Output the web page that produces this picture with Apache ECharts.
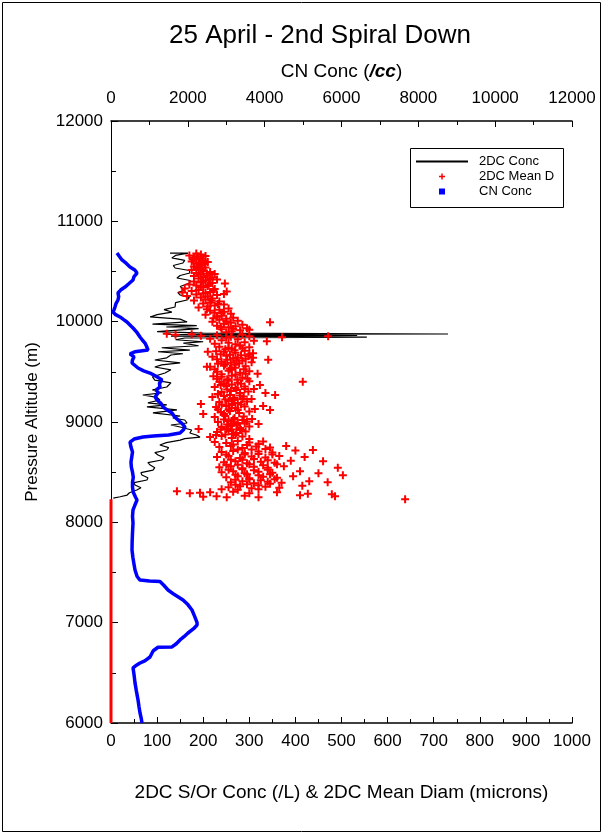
<!DOCTYPE html>
<html lang="en">
<head>
<meta charset="UTF-8">
<title>25 April - 2nd Spiral Down</title>
<script src="https://cdn.jsdelivr.net/npm/echarts@6.0.0/dist/echarts.min.js"></script>
<style>
    html,body{margin:0;padding:0;background:#fff;}
    #main{width:604px;height:834px;}
</style>
</head>
<body>
<div id="main"></div>
<script>
// 2DC S/Or Conc (/L) vs altitude (m)  [conc, alt]
var twoDCConc = [
    [128,10684],[167,10684],[140,10660],[132,10635],[160,10610],[156,10585],[135,10560],[139,10535],
    [170,10510],[171,10485],[150,10460],[143,10435],[172,10410],[171,10385],[150,10350],[160,10316],
    [145,10290],[150,10266],[170,10240],[165,10216],[140,10190],[139,10146],[115,10120],[132,10096],
    [100,10070],[85,10047],[150,10025],[165,9997],[90,9975],[186,9960],[120,9947],[190,9930],
    [193,9917],[100,9900],[200,9885],[731,9877],[120,9872],[534,9862],[130,9855],[555,9845],
    [160,9837],[140,9820],[200,9800],[157,9787],[190,9760],[110,9740],[171,9717],[102,9700],
    [156,9680],[130,9668],[121,9640],[95,9618],[150,9590],[110,9570],[95,9548],[130,9520],
    [117,9488],[90,9450],[95,9418],[130,9390],[121,9349],[90,9320],[110,9290],[69,9269],
    [100,9245],[106,9219],[80,9190],[121,9170],[78,9150],[143,9120],[91,9090],[150,9060],
    [134,9040],[160,9020],[165,8990],[130,8970],[150,8950],[175,8920],[171,8890],[185,8870],
    [193,8850],[160,8835],[150,8820],[120,8795],[106,8771],[125,8745],[121,8721],[95,8695],
    [102,8671],[115,8645],[110,8621],[80,8595],[85,8571],[95,8545],[91,8521],[65,8495],
    [67,8472],[80,8445],[78,8422],[50,8395],[52,8372],[65,8345],[56,8322],[40,8295],
    [35,8272],[20,8255],[5,8242]
];

// 2DC Mean Diam (microns) vs altitude (m)  [diam, alt]
var meanDiam = [
    [185,10680],[195,10670],[170,10660],[205,10655],[180,10640],[190,10625],[200,10610],[175,10600],
    [210,10595],[185,10580],[195,10565],[180,10550],[205,10540],[190,10525],[175,10515],[200,10505],
    [215,10495],[185,10485],[195,10470],[225,10475],[210,10460],[180,10455],[200,10445],
    [188,10650],[198,10630],[178,10620],[192,10590],[203,10575],[188,10545],[198,10520],[208,10480],
    [190,10430],[215,10425],[230,10420],[205,10410],[180,10400],[195,10390],[220,10385],[247,10380],
    [170,10370],[185,10360],[210,10355],[200,10340],[160,10330],[225,10325],[190,10315],[175,10305],
    [251,10300],[215,10295],[155,10290],[200,10280],[185,10270],[230,10265],[165,10255],[210,10250],[245,10275],
    [220,10440],[200,10400],[212,10370],[195,10345],[222,10310],[205,10285],
    [195,10240],[220,10230],[205,10220],[180,10210],[235,10200],[215,10190],[200,10180],[245,10170],
    [225,10160],[210,10150],[190,10140],[255,10130],[235,10120],[215,10110],[245,10100],[225,10090],
    [260,10080],[205,10070],[240,10060],[230,10050],[265,10040],
    [218,10210],[232,10175],[208,10125],[240,10085],[222,10035],[250,10005],
    [250,10030],[235,10020],[275,10010],[220,10000],[260,9990],[345,9995],[245,9980],[285,9970],
    [230,9960],[270,9955],[255,9945],[295,9935],[240,9925],[280,9915],[262,9905],[300,9920],
    [238,9945],[265,9930],[250,9895],
    [121,9880],[140,9870],[175,9875],[195,9860],[230,9865],[260,9850],[285,9870],[300,9855],
    [250,9840],[371,9845],[471,9855],[215,9830],[275,9825],[240,9815],[338,9805],[310,9810],
    [290,9795],[255,9790],[225,9780],[270,9775],
    [235,9750],[255,9740],[280,9760],[300,9745],[262,9730],
    [245,9700],[270,9690],[290,9710],[228,9705],[308,9685],
    [220,9650],[250,9660],[275,9640],[298,9655],[265,9635],
    [240,9600],[260,9590],[285,9610],[305,9595],[232,9580],
    [215,9550],[245,9560],[270,9540],[292,9555],[258,9530],
    [230,9500],[255,9510],[280,9490],[300,9505],[318,9480],
    [240,9450],[262,9460],[285,9440],[222,9455],[296,9430],
    [235,9400],[255,9410],[275,9390],[300,9405],[245,9380],
    [225,9350],[250,9360],[270,9340],[290,9355],[310,9330],
    [240,9300],[260,9310],[280,9290],[298,9305],[232,9280],
    [220,9250],[245,9260],[268,9240],[288,9255],[305,9230],
    [235,9200],[255,9210],[275,9190],[295,9205],[262,9180],
    [228,9150],[250,9160],[270,9140],[290,9155],[312,9130],
    [238,9100],[258,9110],[278,9090],[300,9105],[245,9080],
    [225,9050],[248,9060],[268,9040],[288,9055],[306,9030],
    [232,9000],[255,9010],[275,8990],[295,9005],[262,8980],
    [240,8950],[260,8960],[280,8940],[300,8955],[250,8930],
    [230,8900],[255,8910],[272,8890],[292,8905],[265,8880],
    [215,8850],[240,8860],[262,8840],[285,8855],[300,8830],
    [248,9725],[268,9715],[285,9735],[238,9675],[258,9670],[282,9665],[300,9675],
    [230,9625],[252,9620],[272,9615],[292,9630],[248,9575],[268,9570],[278,9585],
    [225,9525],[262,9520],[288,9525],[240,9475],[270,9470],[292,9480],[252,9425],[274,9420],[230,9430],
    [262,9375],[282,9380],[238,9370],[252,9325],[272,9320],[290,9330],[232,9275],[258,9270],[280,9265],
    [248,9225],[265,9220],[285,9230],[240,9175],[262,9170],[282,9175],[255,9125],[275,9120],[232,9125],
    [245,9025],[265,9025],[285,9020],[252,8975],[272,8970],[290,8985],[238,8925],[262,8925],[282,8920],
    [248,8875],[270,8870],[228,8870],
    [208,9550],[416,9400],[356,9270],[323,9370],[308,9640],[341,9620],[195,9180],[200,9080],
    [330,9160],[320,8980],[190,8930],[345,9120],[210,9700],[335,9290],
    [225,8800],[250,8790],[275,8810],[300,8795],[330,8805],
    [235,8750],[260,8760],[285,8740],[315,8755],[345,8745],[380,8760],
    [240,8700],[265,8710],[290,8690],[320,8705],[350,8695],[400,8715],[438,8720],
    [230,8650],[255,8660],[280,8640],[305,8655],[335,8645],[365,8660],[420,8650],
    [245,8600],[270,8610],[295,8590],[325,8605],[355,8595],[390,8615],[460,8610],
    [235,8550],[260,8560],[285,8540],[310,8555],[340,8545],[375,8560],[492,8545],
    [240,8500],[265,8510],[290,8490],[320,8505],[350,8495],[410,8510],[450,8490],
    [250,8450],[275,8460],[300,8440],[330,8455],[360,8445],[395,8460],[503,8470],
    [260,8400],[285,8410],[310,8390],[340,8405],[370,8395],[430,8410],[470,8400],
    [255,8350],[280,8360],[305,8340],[335,8355],[365,8345],[415,8365],
    [265,8775],[295,8770],[320,8780],[275,8725],[305,8725],[335,8730],[250,8675],[290,8675],[320,8680],[350,8675],
    [260,8625],[285,8625],[310,8630],[340,8620],[250,8575],[275,8575],[300,8580],[330,8570],[360,8580],
    [255,8525],[285,8530],[310,8520],[340,8525],[270,8475],[295,8480],[320,8470],[345,8480],
    [270,8425],[300,8430],[325,8420],[355,8430],[270,8375],[295,8380],[320,8370],[345,8385],
    [240,8330],[275,8325],[320,8330],
    [143,8310],[171,8290],[193,8295],[215,8300],[265,8305],[300,8290],[360,8300],[427,8285],[479,8280],
    [200,8255],[229,8260],[251,8250],[290,8265],[320,8250],[410,8270],[486,8260],[638,8230]
];

// 2DC Mean Diam reads 0 below the cloud  [diam, alt]
var meanDiamZero = [[0,8230],[0,6000]];

// CN Conc (/cc) vs altitude (m)  [cn, alt]
var cnConc = [
    [156,10684],[220,10650],[286,10615],[400,10580],[495,10545],[620,10515],[677,10485],[600,10450],
    [573,10415],[470,10380],[364,10345],[250,10315],[182,10286],[200,10250],[182,10216],[130,10180],
    [104,10146],[80,10120],[52,10096],[120,10070],[234,10047],[330,10020],[416,9997],[500,9965],
    [573,9937],[680,9890],[755,9847],[820,9815],[885,9787],[930,9750],[963,9717],[620,9700],
    [495,9680],[600,9648],[560,9620],[547,9588],[703,9538],[850,9510],[1015,9488],[1200,9450],
    [1327,9418],[1260,9385],[1276,9349],[1180,9320],[1224,9289],[1150,9250],[1197,9219],[1300,9185],
    [1353,9150],[1460,9120],[1588,9090],[1650,9055],[1744,9020],[1850,8985],[1926,8950],[1880,8920],
    [1796,8890],[1500,8870],[1100,8860],[833,8850],[600,8830],[495,8800],[520,8750],[560,8700],
    [540,8650],[520,8600],[530,8550],[560,8500],[580,8450],[560,8400],[560,8350],[580,8300],
    [640,8250],[677,8223],[620,8170],[573,8123],[560,8060],[573,7994],[560,7900],[550,7800],
    [547,7724],[570,7650],[600,7580],[625,7525],[680,7460],[755,7425],[1000,7415],[1275,7410],
    [1380,7370],[1484,7326],[1650,7280],[1875,7226],[2000,7180],[2108,7126],[2180,7060],[2240,7000],
    [2240,6977],[2150,6940],[2004,6897],[1900,6860],[1796,6828],[1700,6790],[1588,6758],[1224,6755],
    [1100,6720],[1015,6658],[880,6620],[755,6598],[640,6570],[573,6550],[600,6480],[625,6400],
    [660,6320],[703,6231],[730,6160],[755,6100],[790,6040],[807,6000]
];

var bottomMin = 0, bottomMax = 1000, bottomStep = 100;
var topMin = 0, topMax = 12000, topStep = 2000;
var altMin = 6000, altMax = 12000, altStep = 1000;

var crossPath = 'path://M3,0H5V3H8V5H5V8H3V5H0V3H3Z';
var dotPath = 'path://M0,0H1V1H0Z';
var linePath = 'path://M0,0H50V2H0Z';
var font = 'Liberation Sans, Arial, sans-serif';

function plain(v) { return String(v); }

var myChart = echarts.init(document.getElementById('main'));

var option = {
    animation: false,
    backgroundColor: '#fff',
    textStyle: {fontFamily: font, color: '#000'},
    title: {
        text: '25 April - 2nd Spiral Down',
        left: 169,
        top: 23,
        padding: 0,
        textStyle: {fontFamily: font, fontSize: 26, fontWeight: 'normal', color: '#000'}
    },
    graphic: [
        {type: 'rect', shape: {x: 2.5, y: 2.5, width: 598, height: 829},
         style: {fill: 'none', stroke: '#000', lineWidth: 1}, silent: true, z: -1},
        {type: 'rect', shape: {x: 410.5, y: 148.5, width: 153, height: 59},
         style: {fill: '#fff', stroke: '#000', lineWidth: 1}, silent: true, z: 0}
    ],
    legend: {
        orient: 'vertical',
        left: 416,
        top: 155,
        padding: 0,
        itemWidth: 52,
        itemHeight: 6,
        itemGap: 2,
        textStyle: {fontFamily: font, fontSize: 13, color: '#000', padding: [0, 0, 0, 6]},
        data: [
            {name: '2DC Conc', icon: linePath, itemStyle: {color: '#000'}},
            {name: '2DC Mean D', icon: crossPath},
            {name: 'CN Conc', icon: dotPath}
        ]
    },
    grid: {left: 111, top: 121, width: 461, height: 602, outerBoundsMode: 'none'},
    xAxis: [
        {
            type: 'value', position: 'bottom',
            min: bottomMin, max: bottomMax, interval: bottomStep,
            name: '2DC S/Or Conc (/L) & 2DC Mean Diam (microns)',
            nameLocation: 'middle', nameGap: 60,
            nameTextStyle: {fontFamily: font, fontSize: 19, color: '#000'},
            axisLine: {show: true, lineStyle: {color: '#000', width: 1.5}},
            axisTick: {show: true, inside: true, length: 6, lineStyle: {color: '#000'}},
            minorTick: {show: true, splitNumber: 2, length: 4, lineStyle: {color: '#000'}},
            axisLabel: {fontFamily: font, fontSize: 17, color: '#000', margin: 10, formatter: plain},
            splitLine: {show: false}
        },
        {
            type: 'value', position: 'top',
            min: topMin, max: topMax, interval: topStep,
            name: 'CN Conc ({b|/cc})',
            nameLocation: 'middle', nameGap: 40,
            nameTextStyle: {fontFamily: font, fontSize: 19, color: '#000',
                rich: {b: {fontFamily: font, fontSize: 19, fontWeight: 'bold', fontStyle: 'italic', color: '#000'}}},
            axisLine: {show: true, lineStyle: {color: '#000', width: 1.5}},
            axisTick: {show: true, inside: true, length: 6, lineStyle: {color: '#000'}},
            minorTick: {show: true, splitNumber: 2, length: 4, lineStyle: {color: '#000'}},
            axisLabel: {fontFamily: font, fontSize: 17, color: '#000', margin: 14, formatter: plain},
            splitLine: {show: false}
        }
    ],
    yAxis: {
        type: 'value',
        min: altMin, max: altMax, interval: altStep,
        name: 'Pressure Altitude (m)',
        nameLocation: 'middle', nameGap: 70,
        nameTextStyle: {fontFamily: font, fontSize: 17, color: '#000'},
        axisLine: {show: true, lineStyle: {color: '#000', width: 1}},
        axisTick: {show: true, inside: true, length: 7, lineStyle: {color: '#000'}},
        minorTick: {show: true, splitNumber: 2, length: 5, lineStyle: {color: '#000'}},
        axisLabel: {fontFamily: font, fontSize: 17, color: '#000', margin: 8, formatter: plain},
        splitLine: {show: false}
    },
    series: [
        {
            name: '2DC Conc',
            type: 'line',
            xAxisIndex: 0,
            data: twoDCConc,
            symbol: 'none',
            lineStyle: {color: '#000', width: 1.2},
            itemStyle: {color: '#000'},
            z: 2
        },
        {
            name: '2DC Mean D',
            type: 'scatter',
            xAxisIndex: 0,
            data: meanDiam,
            symbol: crossPath,
            symbolSize: 8,
            itemStyle: {color: '#ff0000', opacity: 1},
            z: 3
        },
        {
            name: '2DC Mean D',
            type: 'line',
            xAxisIndex: 0,
            data: meanDiamZero,
            symbol: 'none',
            clip: false,
            lineStyle: {color: '#ff0000', width: 3},
            z: 3
        },
        {
            name: 'CN Conc',
            type: 'line',
            xAxisIndex: 1,
            data: cnConc,
            symbol: 'none',
            lineStyle: {color: '#0000ff', width: 3.5},
            itemStyle: {color: '#0000ff'},
            z: 4
        }
    ]
};

myChart.setOption(option);
</script>
</body>
</html>
